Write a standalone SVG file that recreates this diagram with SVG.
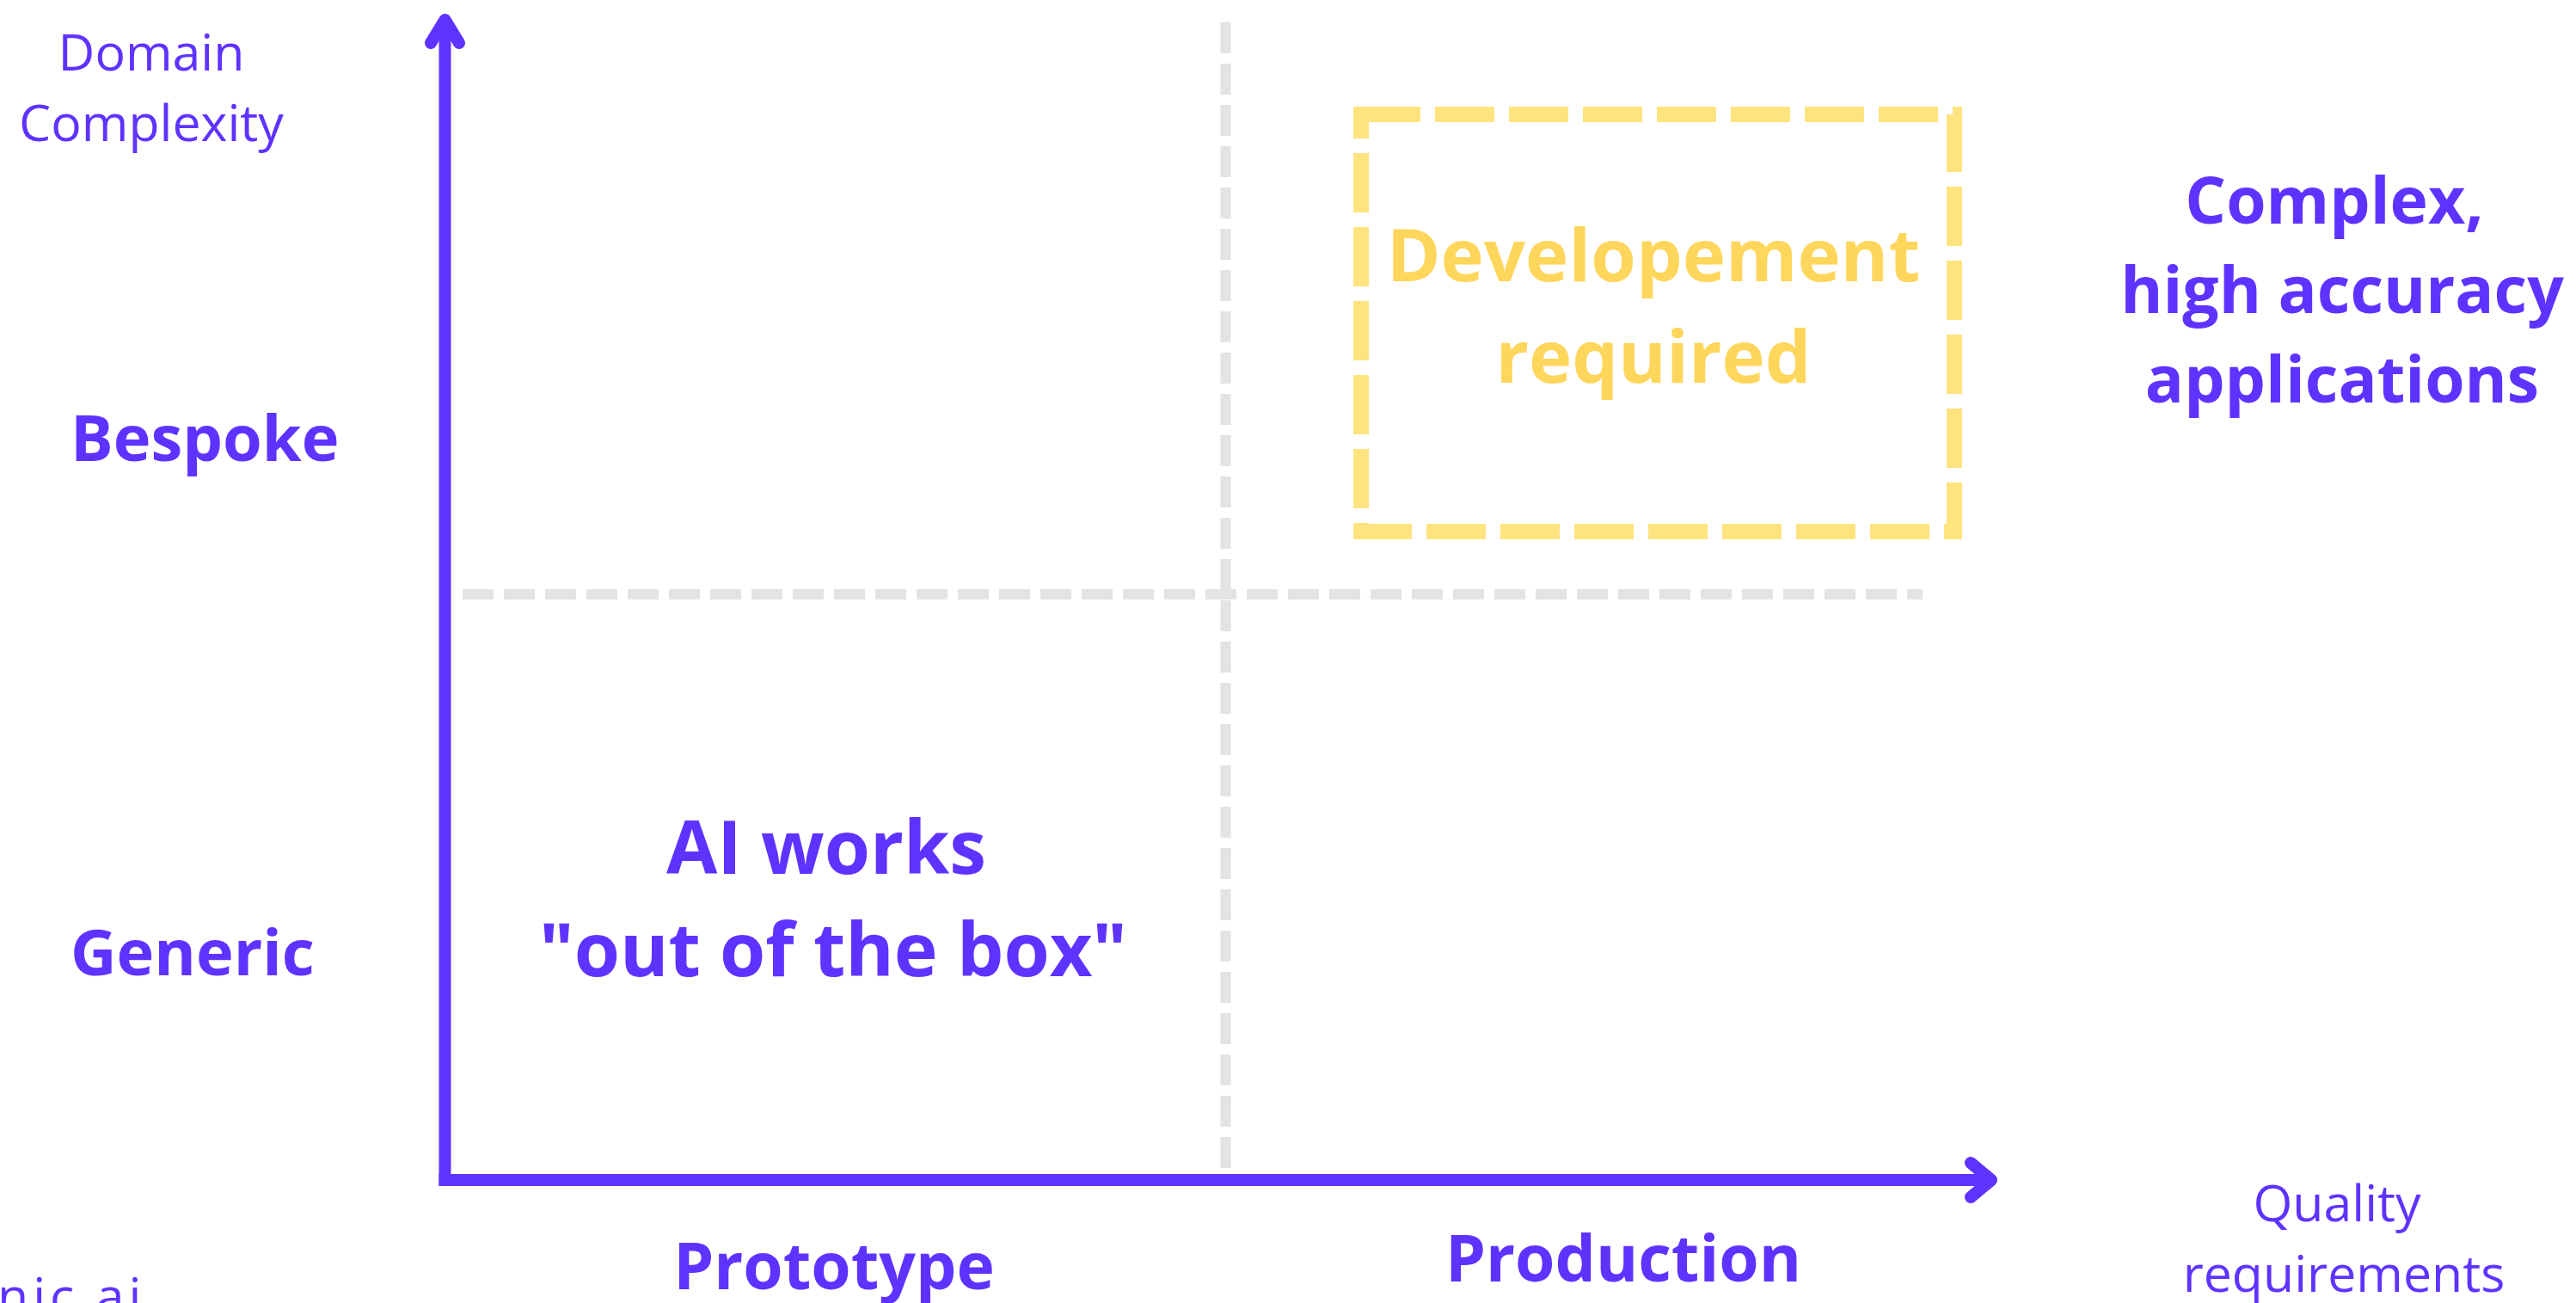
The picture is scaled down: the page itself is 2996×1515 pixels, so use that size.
<svg xmlns="http://www.w3.org/2000/svg" width="2996" height="1515" viewBox="0 0 2996 1515">
  <style>
    .lbl { font-family: "Open Sans", "Noto Sans", sans-serif; fill: #5F33FF; }
    .reg { font-size: 59px; font-weight: 400; }
    .bold { font-size: 75px; font-weight: 700; }
    .side { font-size: 74px; }
    .big { font-size: 86px; font-weight: 700; }
    .dev { font-family: "Open Sans", "Noto Sans", sans-serif; font-size: 85px; font-weight: 700; fill: #FFD65C; }
    .axis { stroke: #5F33FF; stroke-width: 14; fill: none; }
    .head { stroke: #5F33FF; stroke-width: 14; fill: none; stroke-linecap: round; stroke-linejoin: round; }
    .grid { stroke: #E3E3E3; stroke-width: 12; fill: none; stroke-dasharray: 36 12; }
  </style>
  <rect width="2996" height="1515" fill="#FFFFFF"/>

  <!-- quadrant dividers and axes -->
  <g id="connectors">
    <line class="grid" x1="1425.5" y1="26" x2="1425.5" y2="1358"/>
    <line class="grid" x1="538" y1="691" x2="2236" y2="691"/>
    <line class="axis" x1="517.5" y1="24" x2="517.5" y2="1379"/>
    <line class="axis" x1="510.5" y1="1372" x2="2316" y2="1372"/>
    <path class="head" d="M 501 50 L 517.5 23 L 534 50"/>
    <path class="head" d="M 2292 1352 L 2316 1372 L 2292 1392"/>
  </g>

  <g id="y-axis-title">
    <text class="lbl reg" x="176" y="82" text-anchor="middle">Domain</text>
    <text class="lbl reg" x="176" y="164" text-anchor="middle">Complexity</text>
  </g>

  <g id="bespoke">
    <text class="lbl bold side" x="82" y="536">Bespoke</text>
  </g>

  <g id="generic">
    <text class="lbl bold side" x="82" y="1134">Generic</text>
  </g>

  <g id="out-of-the-box">
    <text class="lbl big" x="961" y="1016" text-anchor="middle">AI works</text>
    <text class="lbl big" x="969" y="1135" text-anchor="middle">"out of the box"</text>
  </g>

  <g id="development-required">
    <rect x="1583" y="133" width="690" height="485" fill="none" stroke="#FFE37E" stroke-width="18" stroke-dasharray="69 17"/>
    <text class="dev" x="1923" y="327" text-anchor="middle">Developement</text>
    <text class="dev" x="1923" y="445" text-anchor="middle">required</text>
  </g>

  <g id="complex-apps">
    <text class="lbl bold" x="2715" y="260" text-anchor="middle">Complex,</text>
    <text class="lbl bold" x="2724" y="364" text-anchor="middle">high accuracy</text>
    <text class="lbl bold" x="2724" y="468" text-anchor="middle">applications</text>
  </g>

  <g id="prototype">
    <text class="lbl bold" x="970" y="1499" text-anchor="middle">Prototype</text>
  </g>

  <g id="production">
    <text class="lbl bold" x="1888" y="1490" text-anchor="middle">Production</text>
  </g>

  <g id="x-axis-title">
    <text class="lbl reg" x="2718" y="1420" text-anchor="middle">Quality</text>
    <text class="lbl reg" x="2726" y="1502" text-anchor="middle">requirements</text>
  </g>

  <g id="footer">
    <text class="lbl reg" x="-3" y="1528" letter-spacing="5">nic.ai</text>
  </g>
</svg>
